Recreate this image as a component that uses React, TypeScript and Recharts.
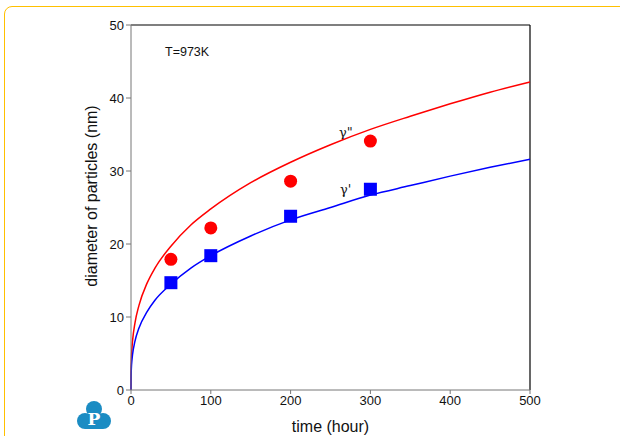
import React from "react"
import {
  ComposedChart,
  Line,
  Scatter,
  XAxis,
  YAxis,
  ReferenceLine
} from "recharts"

// fitted curves
const curveTime = [0, 0.1, 0.5, 1, 2, 5, 10, 20, 30, 50, 75, 100, 150, 200, 250, 300, 350, 400, 450, 500]
const gammaPP = [0, 2.5, 4.3, 5.4, 6.8, 9.2, 11.6, 14.6, 16.7, 19.7, 22.6, 24.8, 28.4, 31.2, 33.6, 35.7, 37.5, 39.2, 40.8, 42.2]
const gammaP = [0, 1.8, 3.1, 3.9, 4.9, 6.7, 8.5, 10.7, 12.3, 14.5, 16.7, 18.4, 21.1, 23.3, 25.0, 26.7, 28.0, 29.3, 30.5, 31.6]

// measured points
const pointTime = [50, 100, 200, 300]
const gammaPPPoints = [17.9, 22.2, 28.6, 34.1]
const gammaPPoints = [14.7, 18.4, 23.8, 27.5]

const xTicks = [0, 100, 200, 300, 400, 500]
const yTicks = [0, 10, 20, 30, 40, 50]

const curves = curveTime.map((t, i) => ({ t, red: gammaPP[i], blue: gammaP[i] }))
const redPoints = pointTime.map((t, i) => ({ t, v: gammaPPPoints[i] }))
const bluePoints = pointTime.map((t, i) => ({ t, v: gammaPPoints[i] }))

const font = "Arial, 'Liberation Sans', sans-serif"

const Circle = (p: any) => <circle cx={p.cx} cy={p.cy} r={6.5} fill="#ff0000" />
const Square = (p: any) => (
  <rect x={p.cx - 6.5} y={p.cy - 6.5} width={13} height={13} fill="#0000ff" />
)

// rounded-triangle logo in the corner
const Logo = () => (
  <svg width={36} height={32} style={{ position: "absolute", left: 77, top: 399 }}>
    <g fill="#1b8cc3">
      <circle cx={17} cy={10} r={8} />
      <circle cx={8} cy={22} r={8} />
      <circle cx={26} cy={22} r={8} />
      <path d="M17 6 L30 24 L4 24 Z" />
      <rect x={8} y={16} width={18} height={14} />
    </g>
    <text x={17} y={26} textAnchor="middle" fill="#fff" fontFamily="'DejaVu Serif', serif" fontWeight="bold" fontSize={17}>P</text>
  </svg>
)

export default function App() {
  return (
    <div style={{ position: "fixed", left: 0, top: 0, width: 620, height: 436, overflow: "hidden", background: "#fff" }}>
      <div
        style={{
          position: "absolute",
          left: 4,
          top: 6,
          width: 700,
          height: 600,
          border: "1.5px solid #ffc000",
          borderRadius: 8
        }}
      />
      <ComposedChart
        width={620}
        height={436}
        data={curves}
        margin={{ top: 25, right: 90, bottom: 16, left: 71 }}
        style={{ position: "absolute", left: 0, top: 0, fontFamily: font }}
      >
        <XAxis
          dataKey="t"
          type="number"
          domain={[0, 500]}
          ticks={xTicks}
          height={30}
          stroke="#777"
          tickSize={4}
          tick={{ fill: "#111", fontSize: 13 }}
          tickMargin={2}
          label={{ value: "time (hour)", position: "insideBottom", offset: -12, fill: "#111", fontSize: 16 }}
        />
        <YAxis
          type="number"
          domain={[0, 50]}
          ticks={yTicks}
          width={60}
          stroke="#777"
          tickSize={5}
          tick={{ fill: "#111", fontSize: 13 }}
          tickMargin={2}
        />
        <ReferenceLine y={50} stroke="#000" strokeWidth={1.2} ifOverflow="extendDomain" />
        <ReferenceLine x={500} stroke="#000" strokeWidth={1.2} ifOverflow="extendDomain" />
        <Line dataKey="red" type="monotone" stroke="#ff0000" strokeWidth={1.5} dot={false} isAnimationActive={false} />
        <Line dataKey="blue" type="monotone" stroke="#0000ff" strokeWidth={1.5} dot={false} isAnimationActive={false} />
        <Scatter data={redPoints} dataKey="v" shape={Circle} isAnimationActive={false} />
        <Scatter data={bluePoints} dataKey="v" shape={Square} isAnimationActive={false} />
        <text x={97} y={196} transform="rotate(-90 97 196)" textAnchor="middle" fontSize={16} fill="#111" fontFamily={font}>
          diameter of particles (nm)
        </text>
        <text x={165} y={56} fontSize={12.5} fill="#111" fontFamily={font}>T=973K</text>
        <text x={339} y={137} fontSize={13} fill="#111" fontFamily="'DejaVu Serif', serif">γ"</text>
        <text x={340} y={194} fontSize={13} fill="#111" fontFamily="'DejaVu Serif', serif">γ'</text>
      </ComposedChart>
      <Logo />
    </div>
  )
}
